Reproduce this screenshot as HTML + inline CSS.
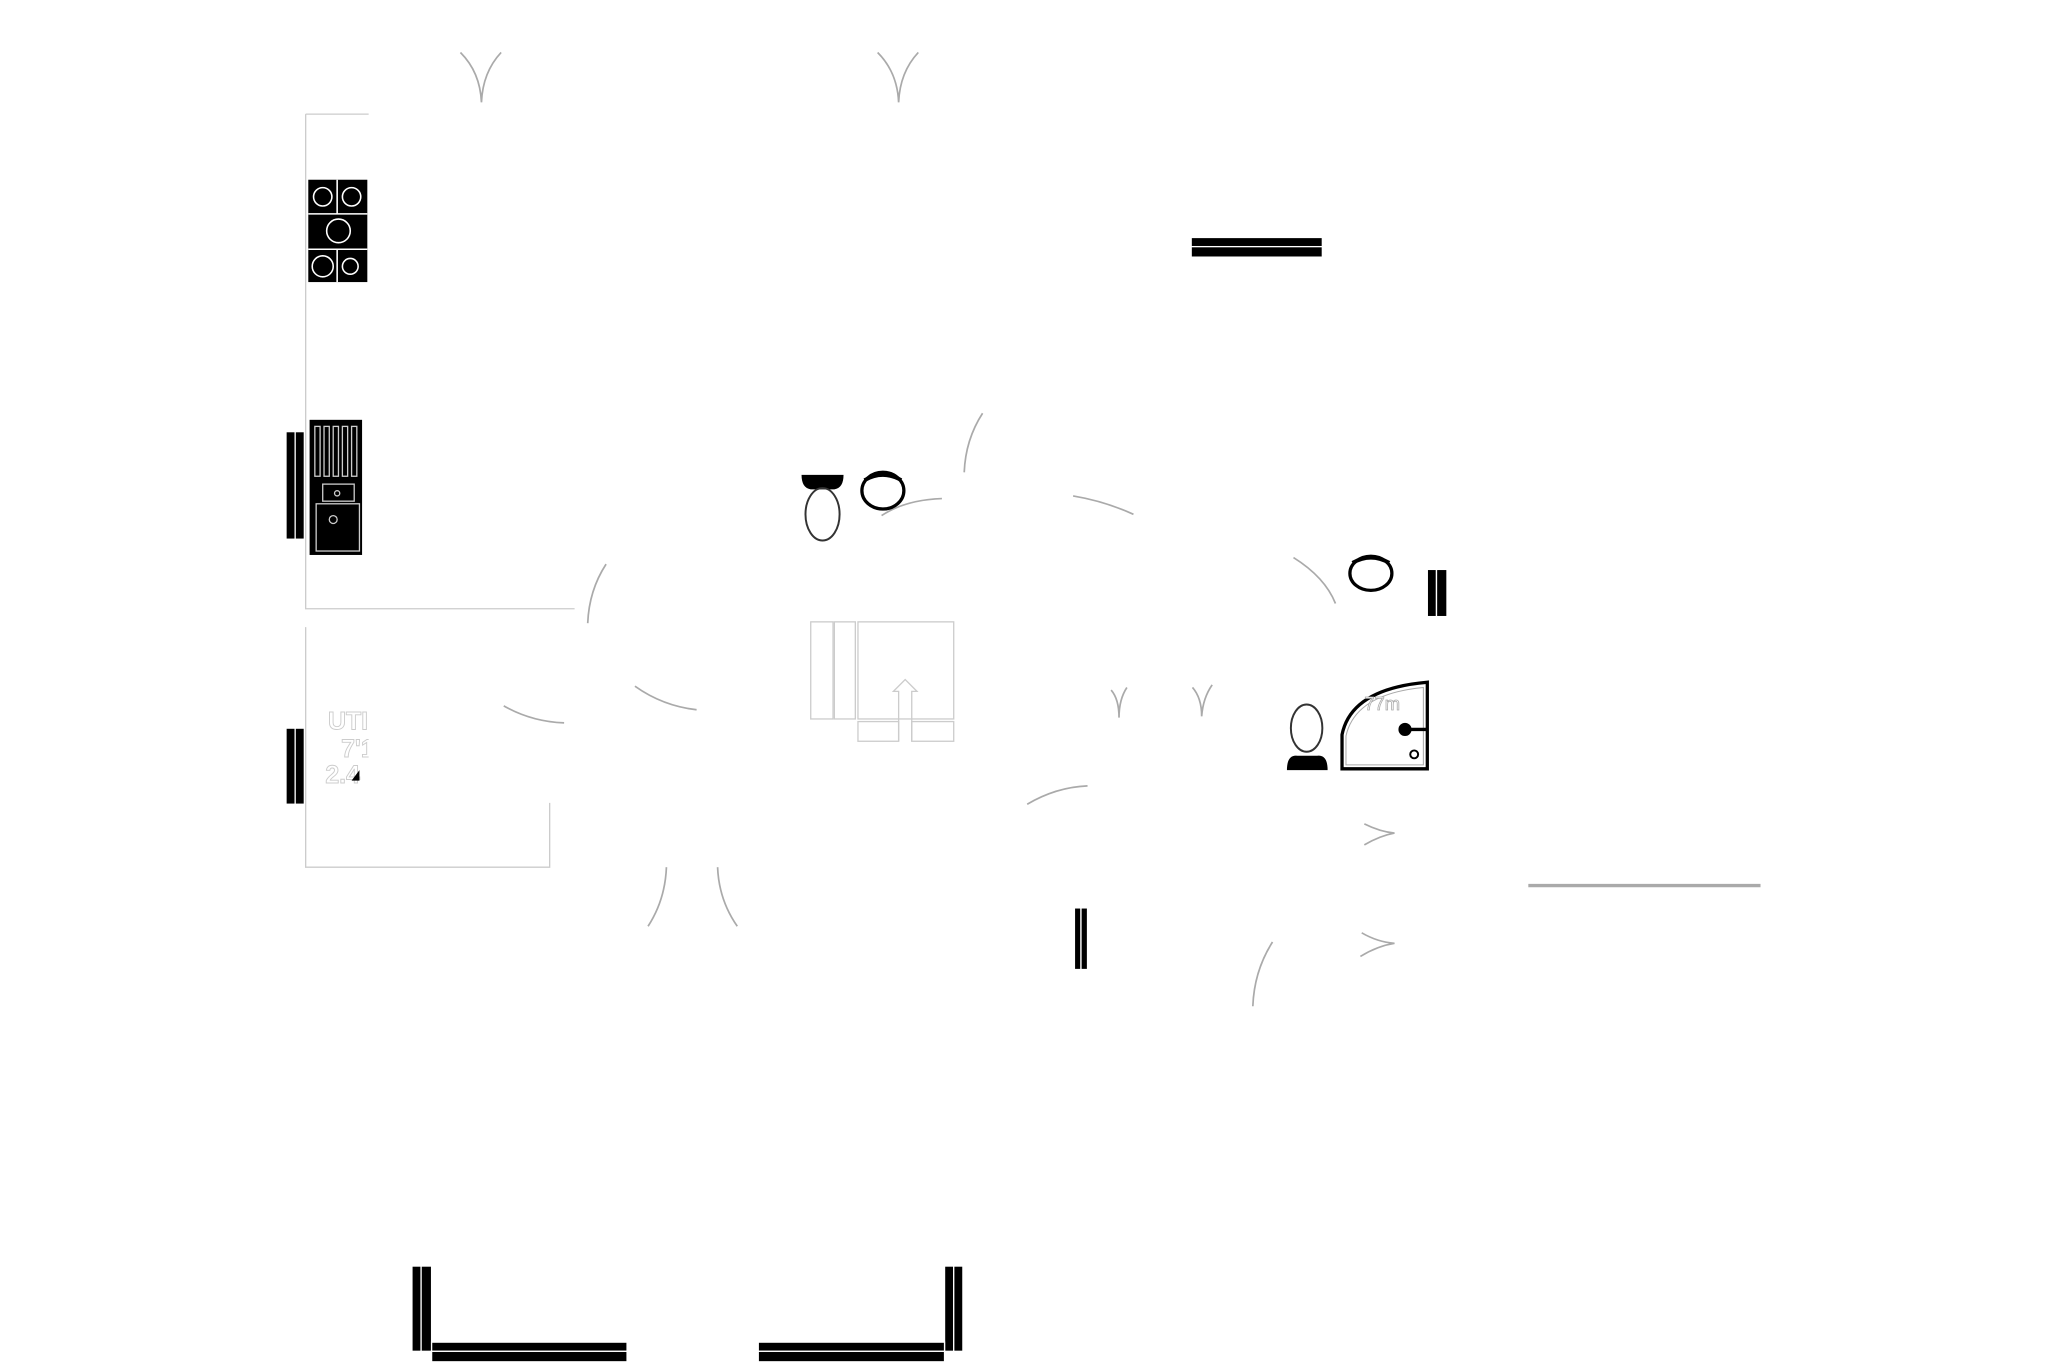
<!DOCTYPE html>
<html><head><meta charset="utf-8"><style>
html,body{margin:0;padding:0;background:#fff;width:2057px;height:1371px;overflow:hidden}
svg{display:block}
</style></head><body>
<svg width="2057" height="1371" viewBox="0 0 1568 1045" preserveAspectRatio="none" xmlns="http://www.w3.org/2000/svg">
<g fill="none" stroke="#aaa" stroke-width="1.3">
<path d="M351 40 Q366 55 367 78 Q368 55 382 40"/>
<path d="M669 40 Q684 55 685 78 Q686 55 700 40"/>
<path d="M847 526 Q853 533 853 547 Q853 533 859 524"/>
<path d="M909 524 Q916 532 916 546 Q917 532 924 522"/>
<path d="M1040 628 Q1052 634 1063 635 Q1052 637 1040 644"/>
<path d="M1038 711 Q1050 718 1063 719 Q1050 721 1037 729"/>
<path d="M749 315 Q736 335 735 360"/>
<path d="M672 393 Q690 381 718 380"/>
<path d="M818 378 Q842 382 864 392"/>
<path d="M986 425 Q1010 440 1018 460"/>
<path d="M462 430 Q449 450 448 475"/>
<path d="M384 538 Q405 550 430 551"/>
<path d="M484 523 Q505 538 531 541"/>
<path d="M783 613 Q805 600 829 599"/>
<path d="M508 661 Q507 686 494 706"/>
<path d="M547 661 Q548 686 562 706"/>
<path d="M970 718 Q956 740 955 767"/>
</g>
<g fill="none" stroke="#ccc" stroke-width="1">
<path d="M233 87 H281 M233 87 V464 H438"/>
<path d="M233 478 V661 H419 V612"/>
<rect x="618" y="474" width="17" height="74"/>
<rect x="636" y="474" width="16" height="74"/>
<rect x="654" y="474" width="73" height="74"/>
<rect x="654" y="550" width="31" height="15"/>
<rect x="695" y="550" width="32" height="15"/>
<path d="M685 565 V527 H681 L690 518 L699 527 H695 V565"/>
</g>
<line x1="1165" y1="675" x2="1342" y2="675" stroke="#aaa" stroke-width="2.5"/>
<rect x="235" y="137" width="45" height="78" fill="#000"/>
<g stroke="#fff" stroke-width="1.2" fill="none">
<path d="M235 163 H280 M235 190 H280 M257 137 V163 M257 190 V215"/>
<circle cx="246" cy="150" r="7"/><circle cx="268" cy="150" r="7"/>
<circle cx="258" cy="176" r="9"/><circle cx="246" cy="203" r="8"/><circle cx="267" cy="203" r="6"/>
</g>
<rect x="236" y="320" width="40" height="103" fill="#000"/>
<g stroke="#ccc" stroke-width="1" fill="none">
<rect x="240" y="325" width="4" height="38"/><rect x="247" y="325" width="4" height="38"/><rect x="254" y="325" width="4" height="38"/><rect x="261" y="325" width="4" height="38"/><rect x="268" y="325" width="4" height="38"/>
<rect x="241" y="384" width="33" height="36"/><rect x="246" y="369" width="24" height="13"/>
<circle cx="254" cy="396" r="3"/><circle cx="257" cy="376" r="2"/>
</g>
<g fill="#000" stroke="#fff" stroke-width="1">
<rect x="218" y="329" width="7" height="82"/><rect x="225" y="329" width="7" height="82"/>
<rect x="218" y="555" width="7" height="58"/><rect x="225" y="555" width="7" height="58"/>
<rect x="908" y="181" width="100" height="7"/><rect x="908" y="188" width="100" height="8"/>
<rect x="1088" y="434" width="7" height="36"/><rect x="1095" y="434" width="8" height="36"/>
<rect x="819" y="692" width="5" height="47"/><rect x="824" y="692" width="5" height="47"/>
<rect x="314" y="965" width="7" height="65"/><rect x="321" y="965" width="8" height="65"/>
<rect x="720" y="965" width="7" height="65"/><rect x="727" y="965" width="7" height="65"/>
<rect x="329" y="1023" width="149" height="7"/><rect x="329" y="1030" width="149" height="8"/>
<rect x="578" y="1023" width="142" height="7"/><rect x="578" y="1030" width="142" height="8"/>
</g>
<path d="M611 362 H643 Q643 372 636 373 H618 Q611 372 611 362Z" fill="#000"/>
<ellipse cx="627" cy="392" rx="13" ry="20" fill="none" stroke="#333" stroke-width="1.5"/>
<ellipse cx="673" cy="374" rx="16" ry="14" fill="none" stroke="#000" stroke-width="2.5"/>
<path d="M659 366 Q673 358 687 366" stroke="#000" stroke-width="3" fill="none"/>
<ellipse cx="1045" cy="437" rx="16" ry="13" fill="none" stroke="#000" stroke-width="2.5"/>
<path d="M1031 429 Q1045 421 1059 429" stroke="#000" stroke-width="3" fill="none"/>
<ellipse cx="996" cy="555" rx="12" ry="18" fill="none" stroke="#333" stroke-width="1.5"/>
<path d="M981 587 H1012 Q1012 575 1004 576 H989 Q981 575 981 587Z" fill="#000"/>
<path d="M1023 586 V560 Q1030 525 1088 520 V586 Z" fill="none" stroke="#000" stroke-width="2.5"/>
<path d="M1026 583 V561 Q1033 529 1085 524 V583 Z" fill="none" stroke="#aaa" stroke-width="0.8"/>
<circle cx="1071" cy="556" r="5" fill="#000"/><path d="M1071 556 H1087" stroke="#000" stroke-width="2.5"/>
<circle cx="1078" cy="575" r="3" fill="none" stroke="#000" stroke-width="1.5"/>
<text x="1040" y="541" font-family="Liberation Sans, sans-serif" font-size="14" fill="#fff" stroke="#aaa" stroke-width="0.6">77m</text>
<g font-family="Liberation Sans, sans-serif" font-weight="bold" font-size="19" fill="#fff" stroke="#ccc" stroke-width="0.7">
<text x="250" y="556">UTI</text><text x="260" y="577">7'1</text><text x="248" y="597">2.4</text>
</g>
<path d="M268 595 L274 587 L274 595Z" fill="#000"/>
<rect x="281" y="530" width="20" height="80" fill="#fff"/>
</svg>
</body></html>
